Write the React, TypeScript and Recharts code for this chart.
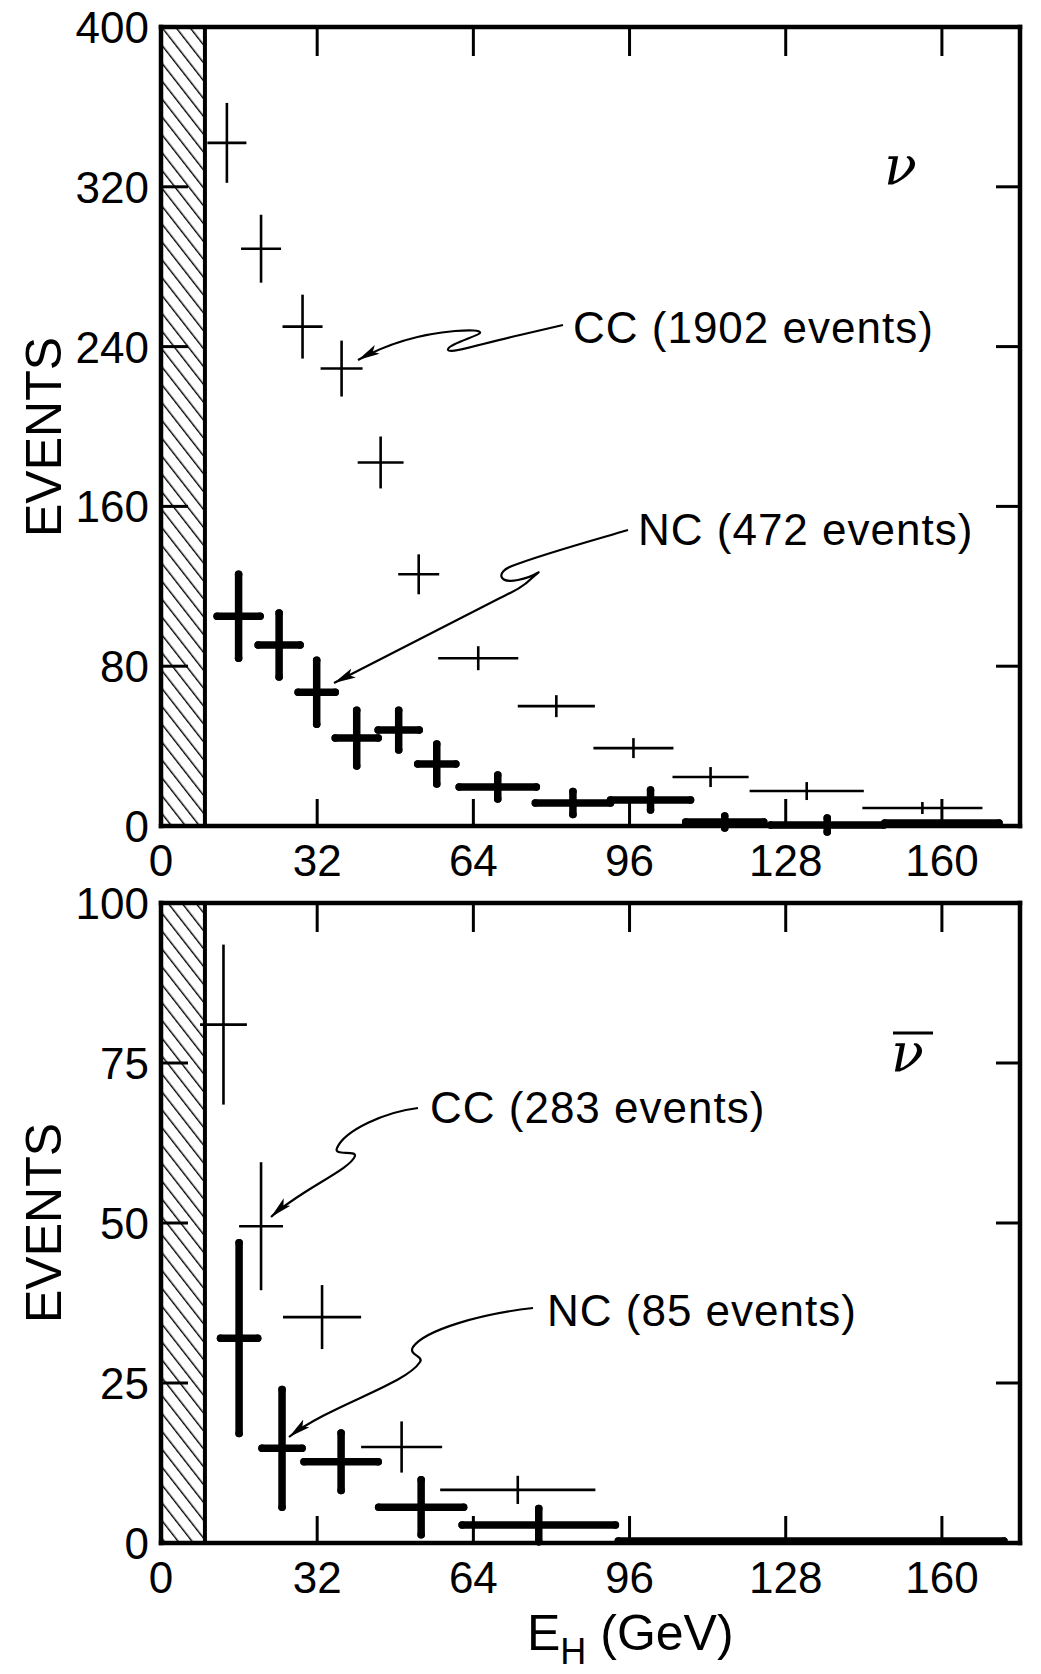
import React from 'react';
import { ScatterChart, Scatter, XAxis, YAxis, ErrorBar, ReferenceArea } from 'recharts';

// --- neutrino run: charged current (thin crosses) ---
const nuCcE = [13.5, 20.5, 29, 37, 45, 52.8, 65, 81, 96.8, 112.6, 132.3, 156];
const nuCcDE = [4, 4.1, 4.1, 4.3, 4.7, 4.2, 8.2, 7.9, 8.2, 7.8, 11.7, 12.3];
const nuCcN = [342, 289, 250, 229, 182, 126, 84, 60, 39, 24.5, 17.5, 9];
const nuCcDN = [20, 17, 16, 14, 13, 10, 6, 5.5, 5, 5, 4.5, 3];

// --- neutrino run: neutral current (thick crosses) ---
const nuNcE = [15.9, 24.2, 31.9, 40.1, 48.7, 56.5, 69, 84.4, 100.3, 115.5, 136.5, 160];
const nuNcDE = [4.4, 4.3, 3.8, 4.4, 4.2, 3.9, 7.9, 7.7, 8.2, 8, 11.6, 11.7];
const nuNcN = [105, 90.6, 67, 44, 48, 31, 19.5, 11.5, 13, 2, 0.5, 1.5];
const nuNcDN = [21, 16, 16, 14, 10, 10, 6, 5.8, 5, 3, 3.5, 0];

// --- antineutrino run ---
const nubarCcE = [12.8, 20.5, 33, 49.3, 73.1];
const nubarCcDE = [4.8, 4.5, 8, 8.3, 15.9];
const nubarCcN = [81, 49.5, 35.3, 15, 8.3];
const nubarCcDN = [12.5, 10, 5, 4, 2.2];

const nubarNcE = [16, 24.8, 36.9, 53.3, 77.4, 133.2];
const nubarNcDE = [3.8, 4.1, 7.6, 8.7, 15.7, 39.5];
const nubarNcN = [32, 14.8, 12.7, 5.6, 2.8, 0.3];
const nubarNcDN = [14.9, 9.2, 4.5, 4.3, 2.6, 0];

// axes
const energyDomain = [0, 176];
const energyTicks = [0, 32, 64, 96, 128, 160];
const nuEventTicks = [0, 80, 160, 240, 320, 400];
const nubarEventTicks = [0, 25, 50, 75, 100];
const hatchRange = [0, 9]; // E_H cut region

const toRows = (e: number[], de: number[], n: number[], dn: number[]) =>
  e.map((v, i) => ({ x: v, ex: de[i], y: n[i], ey: dn[i] }));

const TICK = 27;
const FONT = 'Liberation Sans, Arial, sans-serif';
const tickText = { fontFamily: FONT, fontSize: 44, fill: '#000' };
const frame = { stroke: '#000', strokeWidth: 4.5, strokeLinecap: 'square' as const };

const NoDot = () => <g />;

function Panel({ top, height, margin, yMax, yTicks, cc, nc }: any) {
  const inner = (v: number, max: number) => v > 0 && v < max;
  // axes are 1px thick boxes, so shave 1px off each margin
  const m = { top: margin.top - 1, right: margin.right - 1, bottom: margin.bottom - 1, left: margin.left - 1 };
  return (
    <div style={{ position: 'absolute', left: 0, top }}>
      <ScatterChart width={1041} height={height} margin={m}>
        <XAxis
          xAxisId="b" type="number" dataKey="x" domain={energyDomain} ticks={energyTicks}
          height={1} tickSize={0} tickMargin={0} tickLine={false} interval={0} allowDataOverflow
          axisLine={frame}
          tick={(p: any) => (
            <g>
              {inner(p.payload.value, 999) && (
                <line x1={p.x} x2={p.x} y1={p.y} y2={p.y - TICK} stroke="#000" strokeWidth={3} />
              )}
              <text x={p.x} y={p.y + 50} textAnchor="middle" {...tickText}>{p.payload.value}</text>
            </g>
          )}
        />
        <XAxis
          xAxisId="t" orientation="top" type="number" dataKey="x" domain={energyDomain} ticks={energyTicks.slice(1)}
          height={1} tickSize={0} tickMargin={0} tickLine={false} interval={0} allowDataOverflow
          axisLine={frame}
          tick={(p: any) => (
            <line x1={p.x} x2={p.x} y1={p.y} y2={p.y + TICK + 2} stroke="#000" strokeWidth={3} />
          )}
        />
        <YAxis
          yAxisId="l" type="number" dataKey="y" domain={[0, yMax]} ticks={yTicks}
          width={1} tickSize={0} tickMargin={0} tickLine={false} interval={0} allowDataOverflow
          axisLine={frame}
          tick={(p: any) => (
            <g>
              {inner(p.payload.value, yMax) && (
                <line x1={p.x} x2={p.x + TICK} y1={p.y} y2={p.y} stroke="#000" strokeWidth={3} />
              )}
              <text x={p.x - 12} y={p.y + 16} textAnchor="end" {...tickText}>{p.payload.value}</text>
            </g>
          )}
        />
        <YAxis
          yAxisId="r" orientation="right" type="number" dataKey="y" domain={[0, yMax]}
          ticks={yTicks.filter((v: number) => inner(v, yMax))}
          width={1} tickSize={0} tickMargin={0} tickLine={false} interval={0} allowDataOverflow
          axisLine={frame}
          tick={(p: any) => (
            <line x1={p.x} x2={p.x - TICK + 3} y1={p.y} y2={p.y} stroke="#000" strokeWidth={3} />
          )}
        />
        <ReferenceArea
          xAxisId="b" yAxisId="l" x1={hatchRange[0]} x2={hatchRange[1]}
          fill="url(#hatch)" fillOpacity={1} stroke="#000" strokeWidth={4}
        />
        <Scatter xAxisId="b" yAxisId="l" data={cc} shape={NoDot} isAnimationActive={false} legendType="none">
          <ErrorBar dataKey="ex" direction="x" width={0} stroke="#000" strokeWidth={2.6} isAnimationActive={false} />
          <ErrorBar dataKey="ey" direction="y" width={0} stroke="#000" strokeWidth={2.6} isAnimationActive={false} />
        </Scatter>
        <Scatter xAxisId="b" yAxisId="l" data={nc} shape={NoDot} isAnimationActive={false} legendType="none">
          <ErrorBar dataKey="ex" direction="x" width={0} stroke="#000" strokeWidth={7.5} strokeLinecap="round" isAnimationActive={false} />
          <ErrorBar dataKey="ey" direction="y" width={0} stroke="#000" strokeWidth={7.5} strokeLinecap="round" isAnimationActive={false} />
        </Scatter>
      </ScatterChart>
    </div>
  );
}

const noteText = { fontFamily: FONT, fontSize: 44, fill: '#000', letterSpacing: 1 };

function Annotations() {
  const arrow = { fill: 'none', stroke: '#000', strokeWidth: 2.2, markerEnd: 'url(#head)' };
  return (
    <svg width={1041} height={1674} style={{ position: 'absolute', left: 0, top: 0, pointerEvents: 'none' }}>
      <defs>
        <pattern id="hatch" width={11} height={11} patternUnits="userSpaceOnUse" patternTransform="rotate(-38)">
          <line x1={0} y1={0} x2={0} y2={11} stroke="#000" strokeWidth={2.8} />
        </pattern>
        <marker id="head" markerUnits="userSpaceOnUse" markerWidth={24} markerHeight={12} refX={22} refY={5} orient="auto">
          <path d="M0,0 L22,5 L0,10 L5,5 z" fill="#000" />
        </marker>
      </defs>

      {/* axis titles */}
      <text x={44} y={437} transform="rotate(-90 44 437)" textAnchor="middle" dominantBaseline="central"
        fontFamily={FONT} fontSize={50}>EVENTS</text>
      <text x={44} y={1223} transform="rotate(-90 44 1223)" textAnchor="middle" dominantBaseline="central"
        fontFamily={FONT} fontSize={50}>EVENTS</text>
      <text x={527} y={1650} fontFamily={FONT} fontSize={50}>
        E<tspan fontSize={36} dy={14}>H</tspan><tspan dy={-14}> (GeV)</tspan>
      </text>

      {/* beam labels */}
      <text x={884} y={184} fontFamily="DejaVu Serif, serif" fontStyle="italic" fontSize={54}>ν</text>
      <text x={891} y={1071} fontFamily="DejaVu Serif, serif" fontStyle="italic" fontSize={54}>ν</text>
      <line x1={893} x2={933} y1={1033} y2={1033} stroke="#000" strokeWidth={3} />

      {/* neutrino annotations */}
      <text x={573} y={343} {...noteText}>CC (1902 events)</text>
      <path {...arrow} d="M563,325 L520,335 C480,344 450,354 448,350 C446,345 478,336 480,333 C481,330 470,330 455,331 C420,334 385,345 358,360" />
      <text x={638} y={545} {...noteText}>NC (472 events)</text>
      <path {...arrow} d="M628,530 C580,544 540,555 512,566 C496,572 498,584 518,580 C538,576 545,566 532,578 C522,588 512,592 500,598 L334,683" />

      {/* antineutrino annotations */}
      <text x={430} y={1123} {...noteText}>CC (283 events)</text>
      <path {...arrow} d="M418,1108 C385,1112 345,1130 337,1148 C333,1156 356,1150 355,1156 C350,1170 300,1190 271,1217" />
      <text x={547} y={1326} {...noteText}>NC (85 events)</text>
      <path {...arrow} d="M533,1308 C480,1314 425,1330 413,1347 C408,1355 424,1356 420,1362 C405,1385 330,1405 289,1437" />
    </svg>
  );
}

export default function App() {
  return (
    <div style={{ position: 'absolute', left: 0, top: 0, width: 1041, height: 1674, background: '#fff' }}>
      <Panel
        top={0} height={885} margin={{ top: 27, right: 21, bottom: 59, left: 161 }}
        yMax={400} yTicks={nuEventTicks}
        cc={toRows(nuCcE, nuCcDE, nuCcN, nuCcDN)}
        nc={toRows(nuNcE, nuNcDE, nuNcN, nuNcDN)}
      />
      <Panel
        top={850} height={824} margin={{ top: 53, right: 21, bottom: 131, left: 161 }}
        yMax={100} yTicks={nubarEventTicks}
        cc={toRows(nubarCcE, nubarCcDE, nubarCcN, nubarCcDN)}
        nc={toRows(nubarNcE, nubarNcDE, nubarNcN, nubarNcDN)}
      />
      <Annotations />
    </div>
  );
}
